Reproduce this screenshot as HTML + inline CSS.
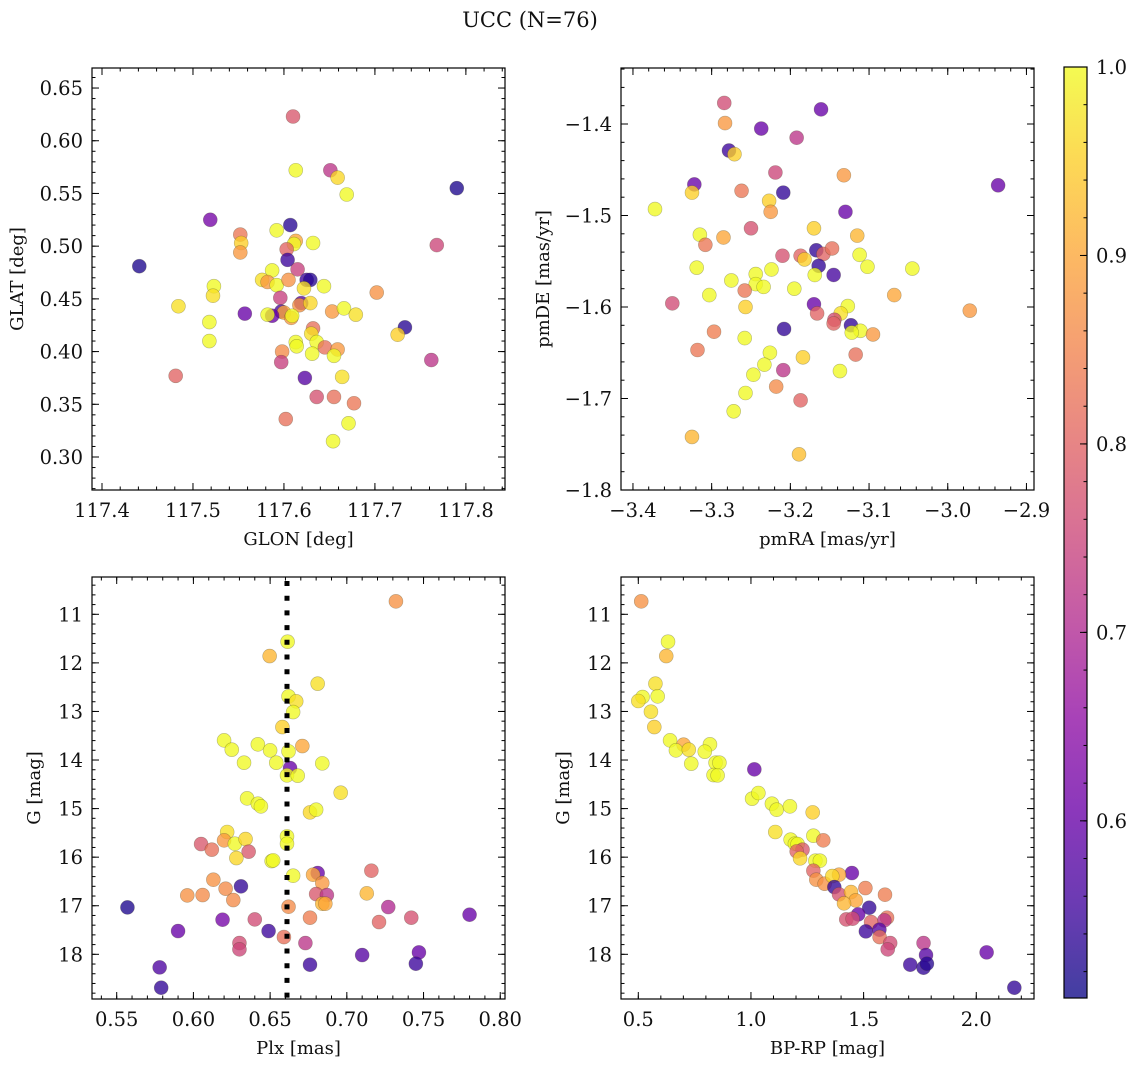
<!DOCTYPE html>
<html><head><meta charset="utf-8"><style>
body{margin:0;background:#fff;width:1136px;height:1067px;overflow:hidden}
svg text{font-family:"DejaVu Serif","Liberation Serif",serif;fill:#111}
</style></head><body>
<svg id="fig" width="1136" height="1067" xmlns="http://www.w3.org/2000/svg">
<defs>
<linearGradient id="plasma" x1="0" y1="1" x2="0" y2="0">
<stop offset="0" stop-color="#0d0887"/><stop offset="0.1" stop-color="#41049d"/><stop offset="0.2" stop-color="#6a00a8"/><stop offset="0.3" stop-color="#8f0da4"/><stop offset="0.4" stop-color="#b12a90"/><stop offset="0.5" stop-color="#cc4778"/><stop offset="0.6" stop-color="#e16462"/><stop offset="0.7" stop-color="#f2844b"/><stop offset="0.8" stop-color="#fca636"/><stop offset="0.9" stop-color="#fcce25"/><stop offset="1" stop-color="#f0f921"/>
</linearGradient>
</defs>
<text x="530" y="27" font-size="21" text-anchor="middle">UCC (N=76)</text>
</svg>
<script>
// ---- Panel 1: GLON / GLAT
const p1Lon=[117.610,117.613,117.651,117.659,117.669,117.790,117.519,117.607,117.592,117.552,117.553,117.552,117.613,117.611,117.632,117.603,117.604,117.768,117.441,117.615,117.587,117.576,117.582,117.592,117.605,117.625,117.629,117.622,117.644,117.523,117.522,117.702,117.596,117.484,117.557,117.619,117.617,117.629,117.597,117.600,117.587,117.582,117.608,117.609,117.653,117.666,117.679,117.518,117.733,117.725,117.632,117.630,117.636,117.645,117.659,117.613,117.614,117.631,117.655,117.518,117.598,117.597,117.762,117.481,117.623,117.664,117.636,117.655,117.677,117.602,117.671,117.654];
const p1Lat=[0.623,0.572,0.572,0.565,0.549,0.555,0.525,0.520,0.515,0.511,0.503,0.494,0.505,0.502,0.503,0.497,0.487,0.501,0.481,0.478,0.477,0.468,0.466,0.463,0.468,0.468,0.468,0.460,0.462,0.462,0.453,0.456,0.451,0.443,0.436,0.446,0.444,0.446,0.438,0.437,0.434,0.435,0.432,0.434,0.438,0.441,0.435,0.428,0.423,0.416,0.422,0.417,0.409,0.404,0.402,0.409,0.405,0.398,0.396,0.410,0.400,0.390,0.392,0.377,0.375,0.376,0.357,0.357,0.351,0.336,0.332,0.315];
const p1Prob=[0.78,1,0.72,0.96,1,0.52,0.62,0.53,1,0.83,0.95,0.88,0.9,1,1,0.8,0.55,0.75,0.52,0.74,1,0.97,0.88,1,0.87,0.55,0.53,0.97,1,1,0.97,0.87,0.74,0.97,0.6,0.58,0.87,0.96,0.56,0.9,0.6,1,0.88,1,0.88,1,0.97,1,0.53,0.95,0.82,0.97,1,0.82,0.88,1,1,1,1,1,0.86,0.74,0.72,0.8,0.58,0.97,0.77,0.82,0.83,0.82,1,1];
const p1XTicks=[117.4,117.5,117.6,117.7,117.8];
const p1XLabels=["117.4","117.5","117.6","117.7","117.8"];
const p1YTicks=[0.30,0.35,0.40,0.45,0.50,0.55,0.60,0.65];
const p1YLabels=["0.30","0.35","0.40","0.45","0.50","0.55","0.60","0.65"];
// ---- Panel 2: pmRA / pmDE
const p2PmRA=[-3.284,-3.283,-3.237,-3.161,-3.192,-3.278,-3.271,-3.219,-3.132,-2.936,-3.322,-3.325,-3.262,-3.209,-3.227,-3.225,-3.372,-3.130,-3.250,-3.170,-3.115,-3.315,-3.308,-3.285,-3.210,-3.187,-3.167,-3.158,-3.147,-3.182,-3.164,-3.112,-3.102,-3.045,-3.319,-3.145,-3.169,-3.224,-3.244,-3.275,-3.244,-3.234,-3.258,-3.195,-3.303,-3.068,-3.350,-3.257,-3.170,-3.166,-3.127,-3.136,-2.972,-3.144,-3.145,-3.123,-3.111,-3.122,-3.095,-3.208,-3.297,-3.258,-3.318,-3.226,-3.184,-3.117,-3.233,-3.247,-3.209,-3.137,-3.257,-3.218,-3.187,-3.272,-3.325,-3.189];
const p2PmDE=[-1.377,-1.399,-1.405,-1.384,-1.415,-1.429,-1.433,-1.453,-1.456,-1.467,-1.466,-1.475,-1.473,-1.475,-1.484,-1.496,-1.493,-1.496,-1.514,-1.514,-1.522,-1.521,-1.532,-1.524,-1.544,-1.544,-1.538,-1.542,-1.536,-1.548,-1.555,-1.543,-1.556,-1.558,-1.557,-1.565,-1.565,-1.559,-1.564,-1.571,-1.575,-1.578,-1.582,-1.580,-1.587,-1.587,-1.596,-1.600,-1.597,-1.607,-1.599,-1.607,-1.604,-1.614,-1.618,-1.620,-1.626,-1.628,-1.630,-1.624,-1.627,-1.634,-1.647,-1.650,-1.655,-1.652,-1.663,-1.674,-1.669,-1.670,-1.694,-1.687,-1.702,-1.714,-1.742,-1.761];
const p2Prob=[0.76,0.88,0.6,0.6,0.72,0.55,0.95,0.75,0.88,0.6,0.6,0.95,0.83,0.54,0.95,0.88,1,0.6,0.77,0.95,0.92,1,0.83,0.9,0.77,0.8,0.54,0.8,0.82,0.95,0.54,1,1,1,1,0.56,1,1,1,1,1,1,0.83,1,1,0.9,0.76,0.95,0.6,0.8,1,0.97,0.88,0.76,0.8,0.54,1,1,0.88,0.54,0.84,1,0.83,1,0.95,0.82,1,1,0.72,1,1,0.86,0.8,1,0.92,0.93];
const p2XTicks=[-3.4,-3.3,-3.2,-3.1,-3.0,-2.9];
const p2XLabels=["\u22123.4","\u22123.3","\u22123.2","\u22123.1","\u22123.0","\u22122.9"];
const p2YTicks=[-1.8,-1.7,-1.6,-1.5,-1.4];
const p2YLabels=["\u22121.8","\u22121.7","\u22121.6","\u22121.5","\u22121.4"];
// ---- Panel 3: Plx / G
const p3Plx=[0.732,0.6614,0.6497,0.681,0.662,0.667,0.665,0.658,0.620,0.625,0.642,0.650,0.671,0.662,0.633,0.654,0.663,0.661,0.668,0.684,0.696,0.635,0.642,0.644,0.676,0.680,0.622,0.620,0.627,0.634,0.605,0.612,0.636,0.628,0.651,0.652,0.661,0.661,0.665,0.681,0.678,0.684,0.716,0.613,0.631,0.621,0.596,0.606,0.626,0.680,0.687,0.713,0.684,0.686,0.662,0.557,0.727,0.780,0.676,0.721,0.742,0.619,0.640,0.590,0.649,0.659,0.630,0.630,0.673,0.710,0.747,0.745,0.676,0.578,0.579];
const p3G=[10.733,11.564,11.859,12.428,12.689,12.792,13.012,13.321,13.595,13.787,13.677,13.801,13.712,13.822,14.055,14.055,14.165,14.316,14.322,14.069,14.673,14.789,14.899,14.954,15.078,15.023,15.482,15.654,15.723,15.627,15.730,15.846,15.887,16.018,16.080,16.066,15.572,15.723,16.382,16.327,16.361,16.533,16.279,16.464,16.601,16.649,16.787,16.780,16.883,16.759,16.780,16.745,16.958,16.958,17.020,17.034,17.027,17.185,17.246,17.336,17.246,17.288,17.281,17.521,17.521,17.645,17.768,17.898,17.768,18.015,17.960,18.194,18.214,18.269,18.688];
const p3Prob=[0.87,1,0.92,0.97,1,0.97,1,0.95,1,1,1,1,0.9,1,1,1,0.6,1,1,1,0.97,1,1,1,0.96,1,0.97,0.88,1,0.96,0.78,0.82,0.78,0.96,1,1,1,1,1,0.6,0.9,0.88,0.8,0.87,0.54,0.86,0.87,0.86,0.86,0.78,0.72,0.92,0.92,0.9,0.86,0.52,0.7,0.6,0.84,0.8,0.77,0.62,0.76,0.6,0.55,0.82,0.76,0.75,0.72,0.58,0.6,0.55,0.55,0.57,0.54];
const p3XTicks=[0.55,0.60,0.65,0.70,0.75,0.80];
const p3XLabels=["0.55","0.60","0.65","0.70","0.75","0.80"];
const gTicks=[11,12,13,14,15,16,17,18];
const gLabels=["11","12","13","14","15","16","17","18"];
const plxMean=[0.661];
// ---- Panel 4: BP-RP / G
const p4Color=[0.513,0.632,0.624,0.576,0.586,0.519,0.500,0.556,0.571,0.641,0.701,0.667,0.724,0.818,0.795,0.735,0.843,0.860,0.834,0.852,1.015,1.005,1.033,1.093,1.114,1.173,1.274,1.108,1.176,1.195,1.207,1.277,1.321,1.229,1.203,1.218,1.286,1.306,1.277,1.448,1.290,1.327,1.391,1.361,1.370,1.391,1.444,1.465,1.413,1.508,1.595,1.525,1.476,1.423,1.451,1.604,1.592,1.533,1.510,1.570,1.571,1.618,1.607,1.766,1.777,2.046,1.707,1.766,1.781,2.169];
const p4G=[10.733,11.564,11.859,12.428,12.689,12.703,12.785,13.005,13.321,13.595,13.684,13.801,13.787,13.677,13.828,14.075,14.055,14.055,14.309,14.316,14.192,14.796,14.679,14.899,15.023,14.954,15.078,15.482,15.640,15.723,15.730,15.558,15.654,15.846,15.881,16.025,16.073,16.073,16.279,16.327,16.464,16.547,16.361,16.389,16.615,16.766,16.718,16.890,16.951,16.636,16.773,17.041,17.178,17.281,17.267,17.246,17.301,17.336,17.528,17.494,17.645,17.768,17.898,17.768,18.015,17.960,18.214,18.276,18.194,18.688];
const p4Prob=[0.87,1,0.92,0.97,1,1,0.97,0.97,0.95,1,0.9,1,0.97,1,1,1,1,1,1,1,0.6,1,1,1,1,1,0.95,0.97,1,1,1,1,0.84,0.78,0.8,0.96,1,1,0.8,0.6,0.87,0.87,0.9,0.96,0.54,0.77,0.92,0.9,0.92,0.84,0.84,0.54,0.6,0.77,0.76,0.82,0.72,0.8,0.55,0.58,0.82,0.76,0.75,0.72,0.58,0.6,0.55,0.54,0.53,0.54];
const p4XTicks=[0.5,1.0,1.5,2.0];
const p4XLabels=["0.5","1.0","1.5","2.0"];
// ---- Colorbar
const cbTicks=[0.6,0.7,0.8,0.9,1.0];
const cbLabels=["0.6","0.7","0.8","0.9","1.0"];
const cbMin=0.506, cbMax=1.0;

const TF=19.5, AF=18;
const NS="http://www.w3.org/2000/svg";
const fig=document.getElementById('fig');
function mk(tag,attrs,parent){const e=document.createElementNS(NS,tag);for(const k in attrs)e.setAttribute(k,attrs[k]);(parent||fig).appendChild(e);return e;}
const stops=[[13,8,135],[65,4,157],[106,0,168],[143,13,164],[177,42,144],[204,71,120],[225,100,98],[242,132,75],[252,166,54],[252,206,37],[240,249,33]];
function plasma(p){let t=(p-cbMin)/(cbMax-cbMin);t=Math.max(0,Math.min(1,t))*10;const i=Math.min(9,Math.floor(t)),f=t-i;const a=stops[i],b=stops[i+1];return 'rgb('+[0,1,2].map(k=>Math.round(a[k]+(b[k]-a[k])*f)).join(',')+')';}

function panel(name,box,xd,yd,xt,xl,xminor,yt,yl,yminor,xs,ys,ps,xlabel,ylabel,ylabX){
  const g=mk('g',{});
  
  
  const X=v=>box.x0+(v-xd[0])/(xd[1]-xd[0])*(box.x1-box.x0);
  const Y=v=>box.y1-(v-yd[0])/(yd[1]-yd[0])*(box.y1-box.y0);
  const pg=mk('g',{},g);
  
  
  for(let i=0;i<xs.length;i++){
    const c=mk('circle',{cx:X(xs[i]),cy:Y(ys[i]),r:7,fill:plasma(ps[i]),'fill-opacity':0.78,stroke:'rgba(60,60,30,0.35)','stroke-width':0.6},pg);
    
    
  }
  const fr=mk('rect',{x:box.x0,y:box.y0,width:box.x1-box.x0,height:box.y1-box.y0,fill:'none',stroke:'#000','stroke-width':1.2},g);
  
  
  const tk=mk('g',{stroke:'#000','stroke-width':1},g);
  function minorList(d,step){const a=[];let s=Math.ceil(d[0]/step-1e-6)*step;for(let v=s;v<=d[1]+1e-9;v+=step)a.push(v);return a;}
  const lo=(a,b)=>Math.min(a,b),hi=(a,b)=>Math.max(a,b);
  minorList([lo(xd[0],xd[1]),hi(xd[0],xd[1])],xminor).forEach(v=>{const x=X(v);mk('line',{x1:x,x2:x,y1:box.y1,y2:box.y1-3.5},tk);mk('line',{x1:x,x2:x,y1:box.y0,y2:box.y0+3.5},tk);});
  minorList([lo(yd[0],yd[1]),hi(yd[0],yd[1])],yminor).forEach(v=>{const y=Y(v);mk('line',{x1:box.x0,x2:box.x0+3.5,y1:y,y2:y},tk);mk('line',{x1:box.x1,x2:box.x1-3.5,y1:y,y2:y},tk);});
  xt.forEach((v,i)=>{const x=X(v);mk('line',{x1:x,x2:x,y1:box.y1,y2:box.y1-7},tk);mk('line',{x1:x,x2:x,y1:box.y0,y2:box.y0+7},tk);
    const t=mk('text',{x:x,y:box.y1+27,'font-size':TF,'text-anchor':'middle'},g);t.textContent=xl[i];
    
    });
  yt.forEach((v,i)=>{const y=Y(v);mk('line',{x1:box.x0,x2:box.x0+7,y1:y,y2:y},tk);mk('line',{x1:box.x1,x2:box.x1-7,y1:y,y2:y},tk);
    const t=mk('text',{x:box.x0-9,y:y+7,'font-size':TF,'text-anchor':'end'},g);t.textContent=yl[i];
    
    });
  const xa=mk('text',{x:(box.x0+box.x1)/2,y:box.y1+55,'font-size':AF,'text-anchor':'middle'},g);xa.textContent=xlabel;
  
  
  const cy=(box.y0+box.y1)/2;
  const ya=mk('text',{x:ylabX,y:cy,'font-size':AF,'text-anchor':'middle',transform:'rotate(-90 '+ylabX+' '+cy+')'},g);ya.textContent=ylabel;
  
  
  return {X,Y,g};
}

panel('panel-glon-glat',{x0:92,x1:505,y0:68,y1:490},[117.389,117.843],[0.2687,0.669],p1XTicks,p1XLabels,0.02,p1YTicks,p1YLabels,0.01,p1Lon,p1Lat,p1Prob,'GLON [deg]','GLAT [deg]',23);
panel('panel-pm',{x0:621,x1:1034,y0:68,y1:490},[-3.4152,-2.8904],[-1.8,-1.3388],p2XTicks,p2XLabels,0.02,p2YTicks,p2YLabels,0.02,p2PmRA,p2PmDE,p2Prob,'pmRA [mas/yr]','pmDE [mas/yr]',549);
const p3=panel('panel-plx-g',{x0:92,x1:505,y0:577,y1:999},[0.5339,0.8031],[18.92,10.232],p3XTicks,p3XLabels,0.01,gTicks,gLabels,0.2,p3Plx,p3G,p3Prob,'Plx [mas]','G [mag]',40);
const ml=mk('line',{x1:p3.X(plxMean[0]),x2:p3.X(plxMean[0]),y1:581,y2:999,stroke:'#000','stroke-width':5,'stroke-dasharray':'5 9.7'},p3.g);


panel('panel-cmd',{x0:621,x1:1034,y0:577,y1:999},[0.4232,2.2563],[18.92,10.232],p4XTicks,p4XLabels,0.1,gTicks,gLabels,0.2,p4Color,p4G,p4Prob,'BP-RP [mag]','G [mag]',569);

const cb=mk('g',{});


const cbx0=1064,cbx1=1087,cby0=67,cby1=998;
mk('rect',{x:cbx0,y:cby0,width:cbx1-cbx0,height:cby1-cby0,fill:'url(#plasma)','fill-opacity':0.78},cb);
mk('rect',{x:cbx0,y:cby0,width:cbx1-cbx0,height:cby1-cby0,fill:'none',stroke:'#000','stroke-width':1.2},cb);
const CY=v=>cby1-(v-cbMin)/(cbMax-cbMin)*(cby1-cby0);
for(let v=0.52;v<=1.0001;v+=0.02){const y=CY(v);mk('line',{x1:cbx1,x2:cbx1-3.5,y1:y,y2:y,stroke:'#000'},cb);}
cbTicks.forEach((v,i)=>{const y=CY(v);mk('line',{x1:cbx1,x2:cbx1-7,y1:y,y2:y,stroke:'#000'},cb);
  const t=mk('text',{x:cbx1+9,y:y+7,'font-size':TF},cb);t.textContent=cbLabels[i];
  
  });
</script>
</body></html>
